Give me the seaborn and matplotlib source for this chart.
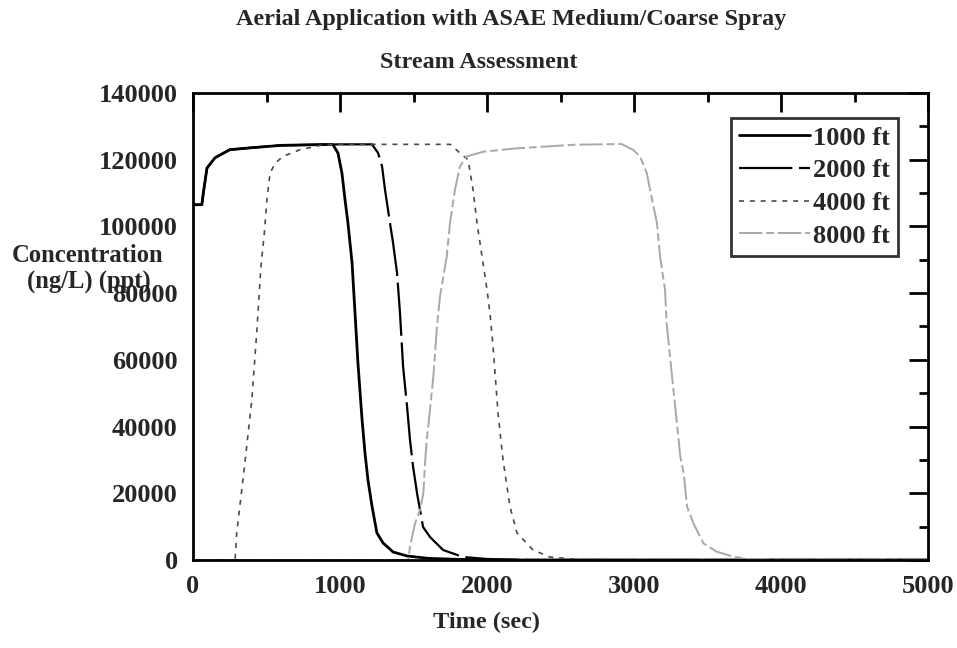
import numpy as np
import pandas as pd
import matplotlib
matplotlib.use("Agg")
import matplotlib.pyplot as plt
from matplotlib.ticker import MultipleLocator
import seaborn as sns

# Datos (tiempo en s, concentracion en ng/L)
t_1000 = [0, 60, 70, 95, 150, 250, 400, 600, 950, 986, 1013, 1034, 1054, 1068, 1082, 1102,
          1122, 1150, 1170, 1190, 1218, 1251, 1293, 1361, 1456, 1600, 1800, 2000, 5000]
c_1000 = [106500, 106500, 110000, 117500, 120600, 123000, 123600, 124300, 124600, 122000,
          116000, 108000, 101000, 95000, 89000, 74000, 59000, 42000, 32000, 24000, 16000,
          8100, 5100, 2400, 1200, 500, 200, 0, 0]

t_2000 = [0, 60, 70, 95, 150, 250, 400, 600, 1000, 1218, 1259, 1286, 1306, 1340, 1361, 1388,
          1408, 1429, 1456, 1476, 1497, 1524, 1565, 1612, 1701, 1837, 2000, 2300, 5000]
c_2000 = [106500, 106500, 110000, 117500, 120600, 123000, 123600, 124300, 124600, 124600,
          122000, 118000, 111000, 101000, 95000, 86000, 74000, 58000, 46000, 36000, 28000,
          20000, 9900, 6900, 3000, 900, 300, 0, 0]

t_4000 = [0, 286, 297, 350, 400, 433, 462, 485, 503, 524, 560, 612, 728, 900, 1750, 1816, 1871,
          1905, 1932, 1966, 2000, 2020, 2041, 2075, 2109, 2156, 2204, 2313, 2428, 2600, 3000, 5000]
c_4000 = [0, 0, 8000, 28000, 48000, 68000, 88000, 98000, 108000, 116000, 119000, 121000, 123000,
          124600, 124600, 122000, 120000, 111000, 101000, 91000, 81000, 74000, 64000, 44000,
          30000, 16000, 8100, 3000, 900, 200, 0, 0]

t_8000 = [0, 1465, 1476, 1510, 1544, 1567, 1578, 1590, 1612, 1635, 1658, 1680, 1726, 1748, 1782,
          1816, 1861, 1975, 2201, 2600, 2916, 2995, 3041, 3087, 3109, 3156, 3177, 3211, 3222,
          3245, 3268, 3292, 3315, 3338, 3361, 3404, 3472, 3562, 3676, 3790, 4000, 5000]
c_8000 = [0, 0, 4000, 10900, 15000, 20000, 29000, 36000, 45000, 55000, 69000, 79000, 91000,
          101000, 111000, 118000, 121000, 122400, 123400, 124500, 124700, 122900, 121000,
          116000, 111000, 101000, 91000, 81000, 71000, 61000, 51000, 41000, 31000, 26000,
          16000, 11000, 5000, 2500, 1000, 200, 0, 0]

etiquetas = ["1000 ft", "2000 ft", "4000 ft", "8000 ft"]

sns.set_theme(style="white")
plt.rcParams['font.family'] = ['Liberation Serif', 'DejaVu Serif']
plt.rcParams['font.weight'] = 'bold'

fig = plt.figure(figsize=(9.57, 6.48), dpi=100)
ax = fig.add_axes([0.2017, 0.1358, 0.768, 0.7207])

series = [
    (t_1000, c_1000, dict(color="black", linewidth=2.0, linestyle="-")),
    (t_2000, c_2000, dict(color="black", linewidth=1.6, linestyle=(0, (24, 3)))),
    (t_4000, c_4000, dict(color="#4a4a4a", linewidth=1.2, linestyle=(0, (3, 3.5)))),
    (t_8000, c_8000, dict(color="#a8a8a8", linewidth=1.4, linestyle=(0, (12, 2, 4, 2)))),
]
for (t, c, estilo), lab in zip(series, etiquetas):
    sns.lineplot(x=t, y=c, ax=ax, label=lab, estimator=None, sort=False, **estilo)

ax.set_xlim(0, 5000)
ax.set_ylim(0, 140000)
ax.xaxis.set_major_locator(MultipleLocator(1000))
ax.xaxis.set_minor_locator(MultipleLocator(500))
ax.yaxis.set_major_locator(MultipleLocator(20000))
ax.yaxis.set_minor_locator(MultipleLocator(10000))
ax.tick_params(which="both", direction="in", top=True, right=True, width=2, color="black")
ax.tick_params(which="major", length=14, pad=11, labelsize=19)
ax.tick_params(which="minor", length=6.5)
for lbl in ax.get_xticklabels() + ax.get_yticklabels():
    lbl.set_fontweight("bold")
for sp in ax.spines.values():
    sp.set_color("black")
    sp.set_linewidth(2)
ax.set_xlabel("")
ax.set_ylabel("")

leg = ax.legend(loc="upper right", bbox_to_anchor=(0.959, 0.946), fontsize=19, frameon=True,
                fancybox=False, edgecolor="black", handlelength=2.7, handletextpad=0.1,
                labelspacing=0.35, borderpad=0.3, borderaxespad=0)
leg.get_frame().set_linewidth(2)
for txt in leg.get_texts():
    txt.set_fontweight("bold")

fig.text(0.534, 1 - 20 / 648, "Aerial Application with ASAE Medium/Coarse Spray",
         ha="center", va="center", fontsize=17.4, fontweight="bold")
fig.text(0.500, 1 - 62 / 648, "Stream Assessment",
         ha="center", va="center", fontsize=17.4, fontweight="bold")
fig.text(88 / 957, 1 - 255 / 648, "Concentration", ha="center", va="center",
         fontsize=17.7, fontweight="bold")
fig.text(27 / 957, 1 - 282 / 648, "(ng/L) (ppt)", ha="left", va="center",
         fontsize=17.7, fontweight="bold")
fig.text(487 / 957, 1 - 622 / 648, "Time (sec)", ha="center", va="center",
         fontsize=17.5, fontweight="bold")

fig.savefig("out.png", dpi=100, facecolor="white")
